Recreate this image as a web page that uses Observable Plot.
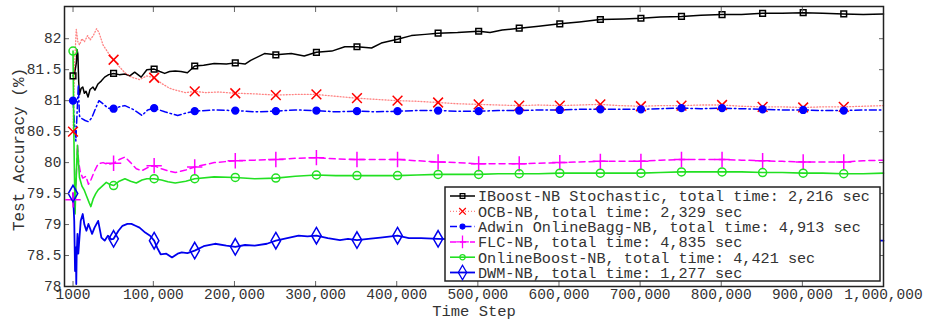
<!DOCTYPE html>
<html><head><meta charset="utf-8">
<script src="https://cdn.jsdelivr.net/npm/d3@7"></script>
<script src="https://cdn.jsdelivr.net/npm/@observablehq/plot@0.6"></script>
<style>
body{margin:0;background:#fff;}
#chart{position:relative;width:925px;height:320px;font-family:"Liberation Mono","DejaVu Sans Mono",monospace;}
</style></head><body><div id="chart"></div>
<script>
const xTickValues = [1000,100000,200000,300000,400000,500000,600000,700000,800000,900000,1000000];
const xTickLabels = ["1000","100,000","200,000","300,000","400,000","500,000","600,000","700,000","800,000","900,000","1,000,000"];
const yTickValues = [78,78.5,79,79.5,80,80.5,81,81.5,82];
const yTickLabels = ["78","78.5","79","79.5","80","80.5","81","81.5","82"];
const markerSteps = [1000,51000,101000,151000,201000,251000,301000,351000,401000,451000,501000,551000,601000,651000,701000,751000,801000,851000,901000,951000];
const seriesNames = [
  "IBoost-NB Stochastic, total time: 2,216 sec",
  "OCB-NB, total time: 2,329 sec",
  "Adwin OnlineBagg-NB, total time: 4,913 sec",
  "FLC-NB, total time: 4,835 sec",
  "OnlineBoost-NB, total time: 4,421 sec",
  "DWM-NB, total time: 1,277 sec"
];

const iboost = [[1000,81.40],[3000,81.45],[5000,81.60],[6000,81.82],[7000,81.75],[8000,81.30],[9000,81.10],[11000,81.20],[13000,81.22],[15000,81.12],[17000,81.15],[19500,81.06],[22000,81.18],[25600,81.22],[28000,81.17],[31800,81.27],[36000,81.32],[40000,81.38],[45000,81.42],[51000,81.44],[58000,81.42],[65000,81.43],[71000,81.40],[77000,81.46],[81000,81.42],[85000,81.38],[92000,81.50],[101000,81.51],[108000,81.47],[114000,81.44],[120000,81.47],[127000,81.48],[134000,81.47],[142000,81.45],[151000,81.56],[162000,81.57],[175000,81.60],[190000,81.59],[201000,81.61],[213000,81.59],[220000,81.65],[237000,81.76],[251000,81.74],[270000,81.76],[286000,81.72],[301000,81.78],[320000,81.80],[336000,81.87],[351000,81.87],[369000,81.85],[381000,81.93],[401000,81.99],[418000,82.05],[435000,82.07],[451000,82.09],[475000,82.10],[501000,82.12],[515000,82.10],[530000,82.14],[551000,82.17],[575000,82.20],[601000,82.24],[625000,82.27],[651000,82.31],[680000,82.32],[701000,82.33],[725000,82.35],[751000,82.36],[775000,82.38],[801000,82.39],[825000,82.39],[851000,82.41],[875000,82.41],[901000,82.42],[925000,82.41],[951000,82.40],[975000,82.39],[1000000,82.40]];

const ocb = [[1000,80.50],[3000,81.60],[5000,82.15],[7000,81.95],[9000,81.90],[12000,82.00],[15000,81.95],[19000,82.05],[22000,81.98],[26000,82.05],[30000,82.16],[33000,82.10],[38000,81.90],[44000,81.78],[51000,81.66],[58000,81.55],[65000,81.45],[73000,81.38],[83000,81.34],[92000,81.40],[101000,81.37],[110000,81.28],[120000,81.20],[130000,81.16],[140000,81.13],[151000,81.15],[165000,81.13],[180000,81.14],[201000,81.12],[225000,81.11],[251000,81.09],[275000,81.10],[301000,81.10],[325000,81.07],[351000,81.04],[375000,81.02],[401000,81.00],[425000,80.99],[451000,80.97],[475000,80.95],[501000,80.94],[525000,80.93],[551000,80.92],[575000,80.93],[601000,80.92],[625000,80.93],[651000,80.94],[675000,80.92],[701000,80.91],[725000,80.92],[751000,80.92],[775000,80.93],[801000,80.93],[825000,80.91],[851000,80.90],[875000,80.90],[901000,80.89],[925000,80.90],[951000,80.90],[975000,80.91],[1000000,80.92]];

const adwin = [[1000,81.00],[3000,80.60],[4500,80.35],[6000,80.80],[7500,81.25],[9000,80.75],[12000,80.71],[16000,80.68],[20000,80.66],[24000,80.72],[28000,80.85],[33000,81.00],[38000,80.95],[44000,80.88],[51000,80.87],[58000,80.90],[65000,80.92],[75000,80.86],[86000,80.76],[93000,80.85],[101000,80.88],[114000,80.82],[130000,80.76],[140000,80.80],[151000,80.83],[175000,80.85],[201000,80.84],[225000,80.82],[251000,80.83],[275000,80.85],[301000,80.84],[325000,80.82],[351000,80.83],[375000,80.82],[401000,80.83],[425000,80.84],[451000,80.84],[475000,80.83],[501000,80.83],[525000,80.84],[551000,80.84],[575000,80.85],[601000,80.85],[625000,80.86],[651000,80.86],[675000,80.86],[701000,80.86],[725000,80.87],[751000,80.88],[775000,80.87],[801000,80.88],[825000,80.87],[851000,80.86],[875000,80.85],[901000,80.85],[925000,80.84],[951000,80.84],[975000,80.85],[1000000,80.85]];

const flc = [[1000,79.40],[3000,79.20],[5000,79.80],[6500,80.28],[8000,80.00],[10000,79.85],[13000,79.75],[17000,79.78],[20000,79.65],[23000,79.72],[27000,79.85],[32000,79.98],[38000,80.00],[44000,79.97],[51000,79.99],[58000,80.05],[65000,80.09],[72000,80.00],[79000,79.90],[86000,79.87],[93000,79.92],[101000,79.95],[110000,79.90],[120000,79.86],[127000,79.84],[140000,79.88],[151000,79.93],[175000,80.00],[201000,80.03],[225000,80.04],[251000,80.05],[275000,80.07],[301000,80.08],[325000,80.06],[351000,80.05],[375000,80.05],[401000,80.05],[425000,80.03],[451000,80.01],[475000,80.00],[501000,79.98],[525000,79.98],[551000,79.98],[575000,79.99],[601000,80.00],[625000,80.01],[651000,80.02],[675000,80.02],[701000,80.02],[725000,80.04],[751000,80.05],[775000,80.05],[801000,80.05],[825000,80.04],[851000,80.03],[875000,80.02],[901000,80.01],[925000,80.01],[951000,80.01],[975000,80.03],[1000000,80.04]];

const onlineBoost = [[1000,81.80],[2000,80.50],[3500,79.17],[4500,79.60],[5500,79.95],[6500,80.28],[7500,80.05],[9000,79.76],[12000,79.62],[15000,79.55],[18000,79.45],[21000,79.35],[23000,79.29],[26000,79.42],[29000,79.50],[32000,79.56],[37000,79.62],[42000,79.68],[46000,79.65],[51000,79.63],[58000,79.70],[65000,79.74],[72000,79.70],[79000,79.67],[86000,79.72],[92000,79.74],[101000,79.74],[110000,79.72],[118000,79.69],[127000,79.67],[140000,79.70],[151000,79.74],[175000,79.77],[201000,79.76],[225000,79.74],[251000,79.75],[275000,79.78],[301000,79.80],[325000,79.79],[351000,79.79],[375000,79.79],[401000,79.79],[425000,79.80],[451000,79.81],[475000,79.81],[501000,79.81],[525000,79.82],[551000,79.82],[575000,79.82],[601000,79.83],[625000,79.83],[651000,79.83],[675000,79.83],[701000,79.83],[725000,79.84],[751000,79.85],[775000,79.85],[801000,79.85],[825000,79.85],[851000,79.84],[875000,79.84],[901000,79.83],[925000,79.83],[951000,79.82],[975000,79.82],[1000000,79.83]];

const dwm = [[1000,79.50],[2500,79.06],[3500,78.25],[4500,78.63],[5000,78.04],[5500,78.50],[6500,78.85],[7500,78.53],[9000,78.80],[10500,79.06],[13000,79.17],[15000,79.00],[17500,78.90],[20000,79.01],[22500,78.92],[24500,78.85],[27500,78.95],[32000,79.06],[36000,78.79],[40000,78.74],[44000,78.82],[48000,78.76],[51000,78.77],[57000,78.90],[62000,78.98],[68000,79.01],[73000,79.01],[78000,78.98],[83000,78.95],[90000,78.87],[96000,78.82],[101000,78.74],[105000,78.62],[109000,78.52],[116000,78.53],[123000,78.47],[130000,78.53],[135000,78.55],[142000,78.54],[151000,78.58],[162000,78.65],[176000,78.69],[190000,78.66],[201000,78.64],[213000,78.67],[225000,78.66],[240000,78.69],[251000,78.74],[265000,78.78],[279000,78.82],[290000,78.81],[301000,78.82],[315000,78.78],[330000,78.75],[340000,78.77],[351000,78.75],[365000,78.77],[380000,78.79],[401000,78.82],[415000,78.78],[430000,78.78],[451000,78.77],[475000,78.76],[501000,78.77],[551000,78.76],[601000,78.77],[651000,78.76],[701000,78.76],[751000,78.75],[801000,78.76],[851000,78.75],[901000,78.75],[951000,78.74],[1000000,78.74]];

const series = [
  {data: iboost, color: "#000000", width: 1.5, dash: null, lineOpacity: 1, symbol: "square", r: 3.2, fill: "none", mstroke: "#000000", lsym: d3.symbolSquare, lsize: 22},
  {data: ocb, color: "#ff3030", width: 1.3, dash: "1,2", lineOpacity: 0.6, symbol: "times", r: 4.5, fill: "none", mstroke: "#ff0000", lsym: d3.symbolTimes, lsize: 30},
  {data: adwin, color: "#0000ff", width: 1.5, dash: "7,3,1.5,3", lineOpacity: 1, symbol: "circle", r: 3.4, fill: "#0000ff", mstroke: "#0000ff", lsym: d3.symbolCircle, lsize: 18},
  {data: flc, color: "#ff00ff", width: 1.5, dash: "6,4", lineOpacity: 1, symbol: "plus", r: 5, fill: "none", mstroke: "#ff00ff", lsym: d3.symbolPlus, lsize: 55},
  {data: onlineBoost, color: "#22e022", width: 1.6, dash: null, lineOpacity: 1, symbol: "circle", r: 4, fill: "none", mstroke: "#22e022", lsym: d3.symbolCircle, lsize: 22},
  {data: dwm, color: "#0000ee", width: 1.8, dash: null, lineOpacity: 1, symbol: "diamond", r: 5, fill: "none", mstroke: "#0000ee", lsym: d3.symbolDiamond, lsize: 60}
];

const markerSet = new Set(markerSteps);
const xLabelMap = new Map(xTickValues.map((v, i) => [v, xTickLabels[i]]));
const yLabelMap = new Map(yTickValues.map((v, i) => [v, yTickLabels[i]]));
const font = '"Liberation Mono", "DejaVu Sans Mono", monospace';

const plot = Plot.plot({
  width: 925, height: 320,
  marginLeft: 64, marginRight: 42, marginTop: 6, marginBottom: 34,
  style: {fontFamily: font, fontSize: "14.5px", color: "#333", background: "white", overflow: "visible"},
  x: {domain: [-9500, 1000000]},
  y: {domain: [78, 82.52]},
  marks: [
    ...series.map(s => Plot.line(s.data, {x: d => d[0], y: d => d[1], stroke: s.color, strokeWidth: s.width, strokeDasharray: s.dash, strokeOpacity: s.lineOpacity})),
    ...series.map(s => Plot.dot(s.data.filter(d => markerSet.has(d[0])), {x: d => d[0], y: d => d[1], symbol: s.symbol, r: s.r, fill: s.fill, stroke: s.mstroke, strokeWidth: 1.5})),
    Plot.axisX(xTickValues, {anchor: "bottom", tickSize: -5, fill: "none", stroke: "#666", label: null}),
    Plot.axisX(xTickValues, {anchor: "top", tickSize: -5, fill: "none", stroke: "#666", label: null}),
    Plot.axisX(xTickValues, {anchor: "bottom", tickSize: 0, tickPadding: 2, tickFormat: d => xLabelMap.get(d), label: null, fill: "#333"}),
    Plot.axisY(yTickValues, {anchor: "left", tickSize: -5, fill: "none", stroke: "#666", label: null}),
    Plot.axisY(yTickValues, {anchor: "right", tickSize: -5, fill: "none", stroke: "#666", label: null}),
    Plot.axisY(yTickValues, {anchor: "left", tickSize: 0, tickPadding: 3, tickFormat: d => yLabelMap.get(d), label: null, fill: "#333"}),
    Plot.frame({stroke: "#222", strokeWidth: 1.5}),
    Plot.text(["Time Step"], {frameAnchor: "bottom", dy: 25, lineAnchor: "middle", textAnchor: "middle", fontSize: 15.5, fill: "#333"}),
    Plot.text(["Test Accuracy (%)"], {frameAnchor: "left", rotate: -90, dx: -46, dy: 3, textAnchor: "middle", lineAnchor: "middle", fontSize: 16, fill: "#333"})
  ]
});
document.getElementById("chart").appendChild(plot);

// Legend overlay
const lg = d3.select("#chart").append("svg")
  .attr("width", 438).attr("height", 96)
  .style("position", "absolute").style("left", "444px").style("top", "186px")
  .style("font-family", font);
lg.append("rect").attr("x", 1).attr("y", 1).attr("width", 435).attr("height", 94)
  .attr("fill", "white").attr("stroke", "#222").attr("stroke-width", 1.5);
series.forEach((s, i) => {
  const cy = 10 + i * 15.3;
  lg.append("line").attr("x1", 6).attr("x2", 31).attr("y1", cy).attr("y2", cy)
    .attr("stroke", s.color).attr("stroke-width", s.width).attr("stroke-opacity", s.lineOpacity)
    .attr("stroke-dasharray", s.dash);
  lg.append("path").attr("transform", `translate(18.5,${cy})`)
    .attr("d", d3.symbol(s.lsym, s.lsize)())
    .attr("fill", s.fill).attr("stroke", s.mstroke).attr("stroke-width", 1.3);
  lg.append("text").attr("x", 34).attr("y", cy).attr("dy", "0.35em")
    .attr("font-size", 15.2).attr("fill", "#333").text(seriesNames[i]);
});
</script>
</body></html>
